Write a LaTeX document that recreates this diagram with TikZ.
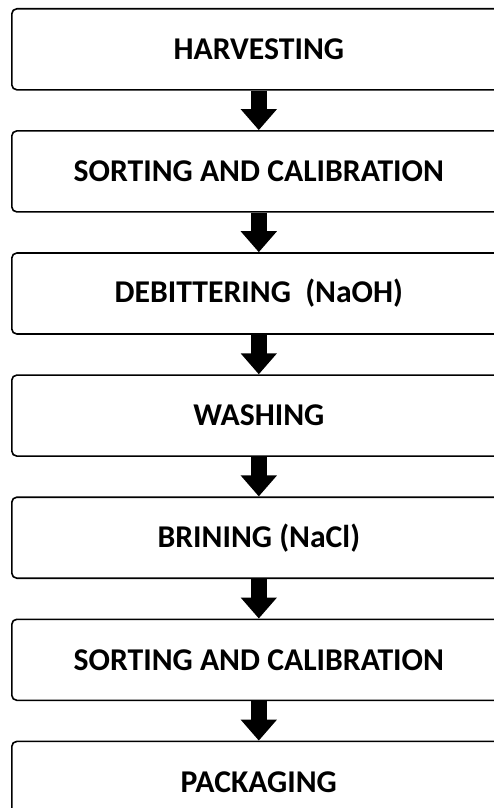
\documentclass[tikz,border=0pt]{standalone}
\usepackage{fontspec}
\setmainfont{Carlito}
\usetikzlibrary{positioning}
\usetikzlibrary{arrows.meta}

\begin{document}
\begin{tikzpicture}[x=1pt,y=1pt,
    stage/.style={draw, line width=1.6pt, rounded corners=5pt,
      minimum width=494pt, minimum height=81pt, inner sep=0pt,
      font=\fontsize{31.7}{38}\selectfont\bfseries},
    flow/.style={line width=16pt, -{Triangle[width=35pt,length=21pt]}},
    node distance=39.5pt]
        \useasboundingbox (0,0) rectangle (494,-808);

        \node[stage, anchor=north west] (harvest) at (11,-8) {HARVESTING};
        \node[stage, below=of harvest]  (sort)    {SORTING AND CALIBRATION};
        \node[stage, below=of sort]     (debit)   {DEBITTERING~ (NaOH)};
        \node[stage, below=of debit]    (wash)    {WASHING};
        \node[stage, below=of wash]     (brine)   {BRINING (NaCl)};
        \node[stage, below=of brine]    (resort)  {SORTING AND CALIBRATION};
        \node[stage, below=of resort]   (pack)    {PACKAGING};

        \foreach \a/\b in {harvest/sort, sort/debit, debit/wash, wash/brine,
                           brine/resort, resort/pack}
          \draw[flow] (\a) -- (\b);
      \end{tikzpicture}
\end{document}
